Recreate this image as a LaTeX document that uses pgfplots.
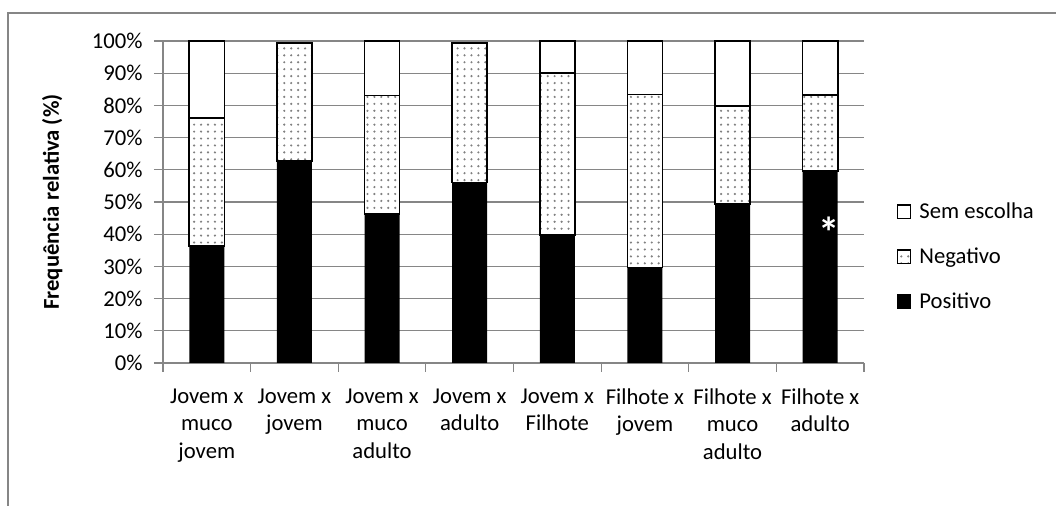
\documentclass[border=0pt]{standalone}
\usepackage{pgfplots}
\pgfplotsset{compat=1.18}
\usepackage{fontspec}
\setmainfont{Carlito}
\usetikzlibrary{patterns.meta}

% frequencias relativas (%)
\pgfplotstableread{
x pos  neg  sem
0 36.3 39.7 24.0
1 62.7 36.6 0.0
2 46.3 36.8 16.9
3 56.0 43.3 0.0
4 39.7 50.3 10.0
5 29.6 53.8 16.6
6 49.3 30.5 20.2
7 59.7 23.6 16.7
}\dados

\definecolor{grade}{RGB}{134,134,134}

\begin{document}
\begin{tikzpicture}
\path[use as bounding box] (-122.25pt,-107.25pt) rectangle (669.75pt,272.25pt);
\draw[grade, line width=0.9pt] (-116.25pt,-107.25pt) -- (-116.25pt,262.5pt) -- (669.75pt,262.5pt);
\begin{axis}[
    at={(0pt,0pt)}, anchor=south west,
    scale only axis, width=525.75pt, height=241.5pt,
    ybar stacked, bar width=0.4,
    xmin=-0.5, xmax=7.5, ymin=0, ymax=100,
    font=\fontsize{17}{20.6}\selectfont,
    /pgf/number format/assume math mode=true,
    axis line style={grade, line width=0.9pt},
    axis x line*=bottom, axis y line*=left,
    ytick={0,10,...,100},
    yticklabel={\pgfmathprintnumber{\tick}\%},
    yticklabel style={xshift=-5pt},
    ymajorgrids, grid style={grade, line width=0.9pt},
    tick align=outside,
    major tick length=6.75pt, minor tick length=6.75pt,
    tick style={grade, line width=0.9pt},
    xtick={0,...,7},
    x tick style={draw=none},
    minor xtick={-0.5,0.5,...,7.5},
    minor x tick style={draw=grade, line width=0.9pt},
    xticklabels={{Jovem x\\muco\\jovem},{Jovem x\\jovem},{Jovem x\\muco\\adulto},{Jovem x\\adulto},{Jovem x\\Filhote},{Filhote x\\jovem},{Filhote x\\muco\\adulto},{Filhote x\\adulto}},
    xticklabel style={align=center, anchor=north, yshift=-9pt},
    ylabel={\bfseries Frequência relativa (\%)},
    ylabel style={at={(axis description cs:-0.158,0.5)}, anchor=center},
    legend style={draw=none, fill=none, at={(axis description cs:1.041,0.515)}, anchor=north west,
        row sep=16.5pt, font=\fontsize{17}{18}\selectfont,
        nodes={inner xsep=6pt}},
    legend cell align=left,
    reverse legend,
    legend image code/.code={\draw[#1, line width=0.8pt, draw=black] (0pt,-5pt) rectangle (10pt,5pt);},
]
\addplot[fill=black, draw=none] table[x=x, y=pos] {\dados};
\addlegendentry{Positivo}
\addplot[fill=white, draw=black, line width=1.2pt,
    postaction={pattern={Dots[distance=5.2pt, radius=0.9pt]}, pattern color=gray}]
    table[x=x, y=neg] {\dados};
\addlegendentry{Negativo}
\addplot[fill=white, draw=black, line width=1.2pt] table[x=x, y=sem] {\dados};
\addlegendentry{Sem escolha}
\coordinate (ast) at (axis cs:7.1,43.6);
\end{axis}
\node[text=white, font=\fontsize{32}{32}\selectfont\bfseries, yshift=-7pt] at (ast) {*};
\end{tikzpicture}
\end{document}
